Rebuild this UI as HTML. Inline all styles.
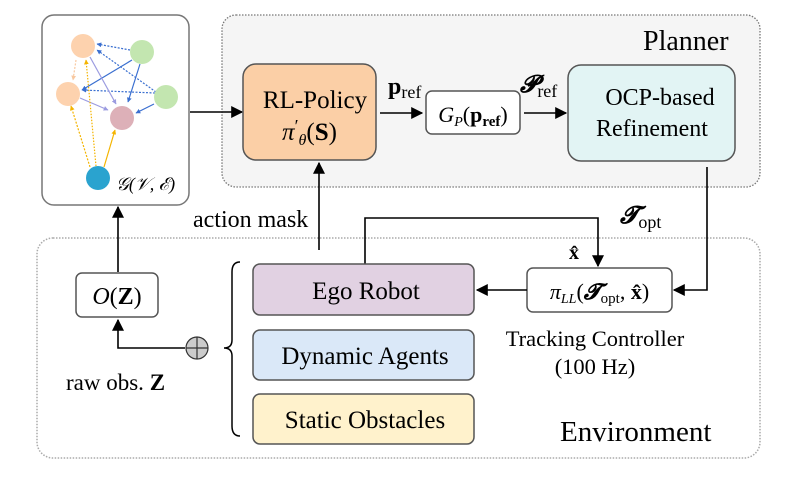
<!DOCTYPE html>
<html><head><meta charset="utf-8"><style>
html,body{margin:0;padding:0;background:#fff;}
svg{display:block;font-family:"Liberation Serif",serif;}
</style></head><body>
<svg width="798" height="487" viewBox="0 0 798 487" xmlns="http://www.w3.org/2000/svg">
<defs>
<marker id="a" viewBox="0 0 10 10" refX="9" refY="5" markerWidth="7.5" markerHeight="7.5" orient="auto"><path d="M0,0L10,5L0,10z" fill="#000"/></marker>
<marker id="b" viewBox="0 0 10 10" refX="9" refY="5" markerWidth="4" markerHeight="4" orient="auto"><path d="M0,0L10,5L0,10z" fill="#3a6fd0"/></marker>
<marker id="c" viewBox="0 0 10 10" refX="9" refY="5" markerWidth="4" markerHeight="4" orient="auto"><path d="M0,0L10,5L0,10z" fill="#f4b400"/></marker>
<marker id="d" viewBox="0 0 10 10" refX="9" refY="5" markerWidth="4" markerHeight="4" orient="auto"><path d="M0,0L10,5L0,10z" fill="#9b9be0"/></marker>
<marker id="e" viewBox="0 0 10 10" refX="9" refY="5" markerWidth="4" markerHeight="4" orient="auto"><path d="M0,0L10,5L0,10z" fill="#f8c8a0"/></marker>
</defs>
<rect x="222" y="15" width="538" height="172" rx="14" fill="#f5f5f5" stroke="#777" stroke-width="1.3" stroke-dasharray="1.5 1.5"/>
<text x="643" y="50" font-size="28">Planner</text>
<rect x="37" y="238" width="723" height="220" rx="16" fill="none" stroke="#aaa" stroke-width="1.5" stroke-dasharray="1.5 1.5"/>
<text x="560" y="441" font-size="29">Environment</text>
<rect x="42" y="15" width="147" height="190" rx="12" fill="#fff" stroke="#777" stroke-width="1.5"/>
<g stroke-width="1.2" fill="none">
<line x1="130" y1="50" x2="97" y2="44" stroke="#3a6fd0" stroke-dasharray="2 1.5" marker-end="url(#b)"/>
<line x1="156" y1="92" x2="97" y2="50" stroke="#3a6fd0" stroke-dasharray="2 1.5" marker-end="url(#b)"/>
<line x1="132" y1="60" x2="82" y2="90" stroke="#3a6fd0" marker-end="url(#b)"/>
<line x1="155" y1="93" x2="82" y2="90" stroke="#3a6fd0" stroke-dasharray="2 1.5" marker-end="url(#b)"/>
<line x1="140" y1="64" x2="128" y2="102" stroke="#3a6fd0" marker-end="url(#b)"/>
<line x1="154" y1="104" x2="136" y2="113" stroke="#3a6fd0" marker-end="url(#b)"/>
<line x1="90" y1="57" x2="116" y2="104" stroke="#9b9be0" marker-end="url(#d)"/>
<line x1="80" y1="98" x2="108" y2="110" stroke="#9b9be0" marker-end="url(#d)"/>
<line x1="76" y1="60" x2="73" y2="80" stroke="#f8c8a0" stroke-dasharray="2 1.5" marker-end="url(#e)"/>
<line x1="90" y1="167" x2="71" y2="106" stroke="#f4b400" stroke-dasharray="2 1.5" marker-end="url(#c)"/>
<line x1="96" y1="166" x2="86" y2="60" stroke="#f4b400" stroke-dasharray="1.5 1.5" marker-end="url(#c)"/>
<line x1="104" y1="167" x2="115" y2="130" stroke="#f4b400" marker-end="url(#c)"/>
</g>
<circle cx="83" cy="46" r="12" fill="#fdd2ae"/>
<circle cx="142" cy="52" r="12" fill="#c3e6b0"/>
<circle cx="68" cy="94" r="12" fill="#fdd2ae"/>
<circle cx="166" cy="97" r="12" fill="#c3e6b0"/>
<circle cx="122" cy="118" r="12" fill="#ddb0b8"/>
<circle cx="98" cy="178" r="12" fill="#2aa3cf"/>
<text x="116" y="190" font-size="18" font-style="italic">𝒢(𝒱, ℰ)</text>
<line x1="190" y1="112" x2="242" y2="112" stroke="#000" stroke-width="1.6" marker-end="url(#a)"/>
<rect x="243" y="64" width="133" height="96" rx="13" fill="#fbcfa6" stroke="#555" stroke-width="1.5"/>
<text x="315" y="108" font-size="25" text-anchor="middle">RL-Policy</text>
<text x="309.5" y="140" font-size="25" text-anchor="middle"><tspan font-style="italic">π</tspan><tspan font-size="18" dy="-8">′</tspan><tspan font-size="16" font-style="italic" dy="13">θ</tspan><tspan dy="-5">(</tspan><tspan font-weight="bold">S</tspan>)</text>
<text x="388" y="94" font-size="24" font-weight="bold">p<tspan font-weight="normal" font-size="18" dy="4">ref</tspan></text>
<line x1="380" y1="113" x2="422" y2="113" stroke="#000" stroke-width="1.6" marker-end="url(#a)"/>
<rect x="426" y="91" width="94" height="43" rx="6" fill="#fff" stroke="#555" stroke-width="1.5"/>
<text x="473" y="122" font-size="22" text-anchor="middle"><tspan font-style="italic">G</tspan><tspan font-size="14" font-style="italic" dy="4">P</tspan><tspan dy="-4">(</tspan><tspan font-weight="bold">p</tspan><tspan font-size="15" dy="4" font-weight="bold">ref</tspan><tspan dy="-4">)</tspan></text>
<text x="520" y="92" font-size="24" font-weight="bold" font-style="italic">𝓟<tspan font-weight="normal" font-style="normal" font-size="18" dy="5">ref</tspan></text>
<line x1="524" y1="113" x2="566" y2="113" stroke="#000" stroke-width="1.6" marker-end="url(#a)"/>
<rect x="568" y="65" width="167" height="96" rx="13" fill="#e2f4f4" stroke="#555" stroke-width="1.5"/>
<text x="660" y="105" font-size="24" text-anchor="middle">OCP-based</text>
<text x="652" y="136" font-size="24" text-anchor="middle">Refinement</text>
<polyline points="707,167 707,290 674,290" fill="none" stroke="#000" stroke-width="1.6" marker-end="url(#a)"/>
<text x="620" y="223" font-size="24" font-weight="bold" font-style="italic">𝓣<tspan font-weight="normal" font-style="normal" font-size="18" dy="5">opt</tspan></text>
<rect x="527" y="268" width="145" height="44" rx="6" fill="#fff" stroke="#555" stroke-width="1.5"/>
<text x="599.5" y="299" font-size="22" text-anchor="middle"><tspan font-style="italic">π</tspan><tspan font-size="14" font-style="italic" dy="4">LL</tspan><tspan dy="-4">(</tspan><tspan font-weight="bold" font-style="italic">𝓣</tspan><tspan font-size="15" dy="4">opt</tspan><tspan dy="-4">, </tspan><tspan font-weight="bold">x̂</tspan>)</text>
<line x1="527" y1="290" x2="477" y2="290" stroke="#000" stroke-width="1.6" marker-end="url(#a)"/>
<polyline points="365,264 365,218 598,218 598,266" fill="none" stroke="#000" stroke-width="1.6" marker-end="url(#a)"/>
<text x="569" y="259" font-size="20" font-weight="bold">x̂</text>
<line x1="319" y1="250" x2="319" y2="163" stroke="#000" stroke-width="1.6" marker-end="url(#a)"/>
<text x="193" y="227" font-size="24">action mask</text>
<rect x="253" y="264" width="221" height="51" rx="7" fill="#e1d1e2" stroke="#555" stroke-width="1.5"/>
<text x="366" y="299" font-size="25" text-anchor="middle">Ego Robot</text>
<rect x="253" y="330" width="221" height="50" rx="7" fill="#dae8f8" stroke="#555" stroke-width="1.5"/>
<text x="365" y="364" font-size="25" text-anchor="middle">Dynamic Agents</text>
<rect x="253" y="394" width="221" height="50" rx="7" fill="#fff2cc" stroke="#555" stroke-width="1.5"/>
<text x="365" y="428" font-size="25" text-anchor="middle">Static Obstacles</text>
<text x="595" y="346" font-size="22.5" text-anchor="middle">Tracking Controller</text>
<text x="595" y="374" font-size="22.5" text-anchor="middle">(100 Hz)</text>
<path d="M240,262 Q232,262 232,272 L232,340 Q232,348 224,348 Q232,348 232,356 L232,426 Q232,436 240,436" fill="none" stroke="#000" stroke-width="1.5"/>
<circle cx="197" cy="348" r="11" fill="#ccc" stroke="#333" stroke-width="1.2"/>
<line x1="186" y1="348" x2="208" y2="348" stroke="#333" stroke-width="1.2"/>
<line x1="197" y1="337" x2="197" y2="359" stroke="#333" stroke-width="1.2"/>
<polyline points="185,348 118,348 118,320" fill="none" stroke="#000" stroke-width="1.6" marker-end="url(#a)"/>
<rect x="76" y="273" width="82" height="44" rx="6" fill="#fff" stroke="#555" stroke-width="1.5"/>
<text x="117" y="304" font-size="24" text-anchor="middle"><tspan font-style="italic">O</tspan>(<tspan font-weight="bold">Z</tspan>)</text>
<line x1="118" y1="272" x2="118" y2="207" stroke="#000" stroke-width="1.6" marker-end="url(#a)"/>
<text x="66" y="390" font-size="23">raw obs. <tspan font-weight="bold">Z</tspan></text>
</svg>
</body></html>
